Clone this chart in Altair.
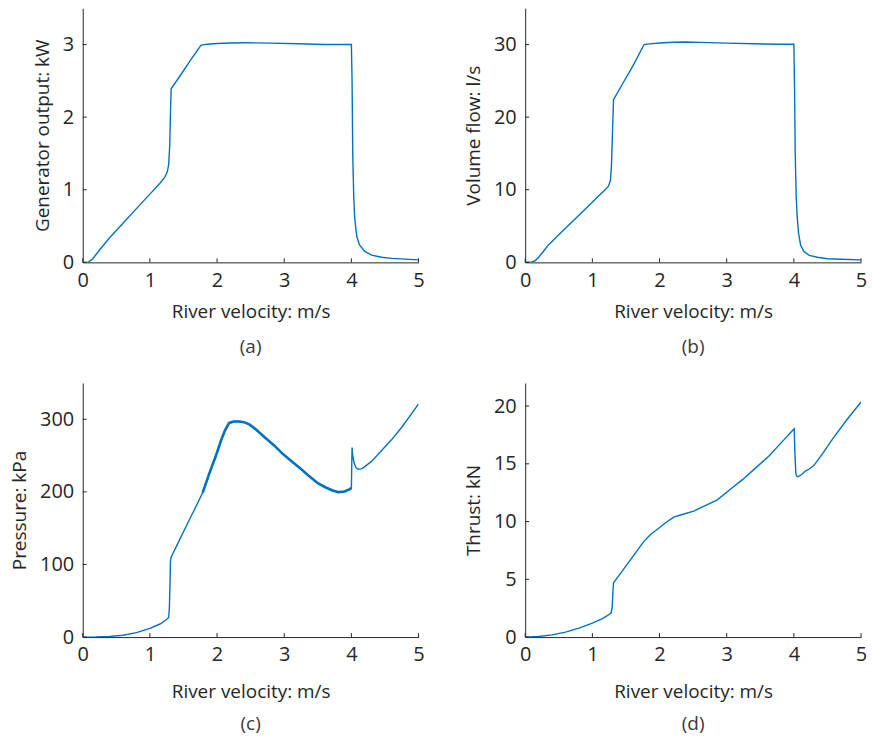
import altair as alt
import pandas as pd

# ---------------- data ----------------
x_ticks = [0, 1, 2, 3, 4, 5]

# (a) Generator output, kW
v_a = [0, 0.08, 0.15, 0.25, 0.4, 0.6, 0.8, 1.0, 1.15, 1.22, 1.26, 1.28, 1.295, 1.305,
       1.316, 1.45, 1.6, 1.76, 1.85, 2.0, 2.2, 2.4, 2.8, 3.2, 3.6, 4.0, 4.01, 4.02, 4.035,
       4.05, 4.08, 4.12, 4.2, 4.3, 4.45, 4.6, 4.8, 5.0]
gen_kw = [0, 0, 0.05, 0.17, 0.34, 0.54, 0.74, 0.94, 1.09, 1.17, 1.25, 1.35, 1.6, 2.0,
          2.39, 2.57, 2.78, 2.99, 3.005, 3.015, 3.022, 3.025, 3.02, 3.01, 3.0, 3.0, 2.5,
          1.5, 0.9, 0.6, 0.36, 0.24, 0.15, 0.1, 0.07, 0.055, 0.045, 0.035]
yt_a = [0, 1, 2, 3]

# (b) Volume flow, l/s
v_b = [0, 0.1, 0.15, 0.2, 0.27, 0.34, 0.5, 0.7, 0.9, 1.1, 1.18, 1.24, 1.27, 1.285, 1.3,
       1.315, 1.45, 1.6, 1.77, 1.85, 2.0, 2.2, 2.4, 2.6, 3.0, 3.4, 3.8, 4.0, 4.01, 4.02,
       4.035, 4.05, 4.07, 4.1, 4.15, 4.23, 4.35, 4.5, 4.7, 5.0]
flow_ls = [0, 0.05, 0.25, 0.7, 1.5, 2.34, 3.8, 5.6, 7.4, 9.2, 9.9, 10.5, 11.3, 13.5, 18,
           22.4, 24.6, 27.0, 30.0, 30.1, 30.22, 30.32, 30.35, 30.3, 30.2, 30.1, 30.05,
           30.05, 24, 15, 9, 6.2, 4.0, 2.4, 1.5, 0.96, 0.7, 0.5, 0.42, 0.35]
yt_b = [0, 10, 20, 30]

# (c) Pressure, kPa
v_c = [0, 0.2, 0.4, 0.6, 0.8, 1.0, 1.15, 1.24, 1.28, 1.29, 1.30, 1.306, 1.316, 1.4, 1.54,
       1.66, 1.785, 1.88, 1.98, 2.06, 2.12, 2.18, 2.25, 2.33, 2.4, 2.48, 2.58, 2.7, 2.85,
       2.97, 3.1, 3.25, 3.37, 3.5, 3.62, 3.72, 3.81, 3.9, 3.96, 4.0, 4.005, 4.01, 4.02,
       4.04, 4.07, 4.1, 4.16, 4.3, 4.46, 4.6, 4.75, 4.9, 5.0]
press_kpa = [0, 0.1, 0.8, 2.6, 6.1, 12, 18, 23.5, 27, 40, 75, 104, 110, 126, 152.6, 175,
             198.7, 224, 249, 271, 285, 295, 297, 297, 296, 293, 286, 276, 264, 253, 243,
             231.5, 221.7, 212, 206, 202, 199.6, 200.5, 203, 205, 235, 261, 250, 240, 233,
             231, 232, 242, 258, 272, 289, 308, 321]
yt_c = [0, 100, 200, 300]

# (d) Thrust, kN
v_d = [0, 0.2, 0.4, 0.6, 0.8, 1.0, 1.15, 1.25, 1.28, 1.295, 1.305, 1.316, 1.4, 1.52,
       1.64, 1.77, 1.87, 1.97, 2.08, 2.21, 2.35, 2.51, 2.68, 2.855, 3.05, 3.24, 3.44,
       3.63, 3.82, 4.005, 4.015, 4.03, 4.05, 4.07, 4.12, 4.17, 4.23, 4.30, 4.43, 4.57,
       4.78, 5.0]
thrust_kn = [0, 0.05, 0.19, 0.43, 0.77, 1.2, 1.6, 1.95, 2.1, 2.6, 3.8, 4.7, 5.37, 6.32,
             7.27, 8.31, 8.9, 9.33, 9.85, 10.39, 10.63, 10.91, 11.38, 11.86, 12.77, 13.65,
             14.69, 15.67, 16.88, 18.04, 16.0, 14.09, 13.9, 13.89, 14.1, 14.37, 14.55,
             14.87, 15.9, 17.1, 18.75, 20.35]
yt_d = [0, 5, 10, 15, 20]

# ---------------- styling ----------------
W, H = 337, 255
BLUE = "#0072BD"
INK = "#262626"
FONT = "Open Sans"


def panel(v, y, ytitle, ymax, yticks, caption, ytitle_pad, xtitle_pad, cap_offset,
          thick_range=None):
    df = pd.DataFrame({"v": v, "y": y})
    xs = alt.Scale(domain=[0, 5], nice=False, zero=False)
    ys = alt.Scale(domain=[0, ymax], nice=False, zero=False)
    xaxis = alt.Axis(title="River velocity: m/s", values=x_ticks, ticks=False,
                     labelPadding=8, titlePadding=xtitle_pad, grid=False, format="d",
                     labelFlush=False, labelOverlap=False)
    yaxis = alt.Axis(title=ytitle, values=yticks, ticks=False, labelPadding=9,
                     titlePadding=ytitle_pad, grid=False, format="d", labelFlush=False,
                     labelOverlap=False)
    base = alt.Chart(df)
    line = base.mark_line(color=BLUE, strokeWidth=1.4, clip=True).encode(
        x=alt.X("v:Q", scale=xs, axis=xaxis),
        y=alt.Y("y:Q", scale=ys, axis=yaxis),
    )
    layers = [line]
    if thick_range is not None:
        thick = base.transform_filter(
            (alt.datum.v >= thick_range[0]) & (alt.datum.v <= thick_range[1])
        ).mark_line(color=BLUE, strokeWidth=2.6, clip=True).encode(
            x=alt.X("v:Q", scale=xs, axis=xaxis),
            y=alt.Y("y:Q", scale=ys, axis=yaxis),
        )
        layers.append(thick)
    xt = alt.Chart(pd.DataFrame({"v": x_ticks})).mark_rule(color=INK, strokeWidth=1).encode(
        x=alt.X("v:Q", scale=xs, axis=xaxis),
        y=alt.value(H),
        y2=alt.value(H - 4),
    )
    yt = alt.Chart(pd.DataFrame({"y": yticks})).mark_rule(color=INK, strokeWidth=1).encode(
        y=alt.Y("y:Q", scale=ys, axis=yaxis),
        x=alt.value(0),
        x2=alt.value(4),
    )
    layers += [xt, yt]
    return alt.layer(*layers).properties(
        width=W,
        height=H,
        title=alt.TitleParams(text=caption, orient="bottom", frame="group", anchor="middle",
                              fontSize=19, font=FONT, color="#3a3a3a", fontWeight="normal",
                              offset=cap_offset),
    )


pa = panel(v_a, gen_kw, "Generator output: kW", 3.5, yt_a, "(a)", 10, 12, 17)
pb = panel(v_b, flow_ls, "Volume flow: l/s", 35, yt_b, "(b)", 10, 12, 17)
pc = panel(v_c, press_kpa, "Pressure: kPa", 350, yt_c, "(c)", 10, 18, 13,
           thick_range=(1.785, 4.0))
pd_ = panel(v_d, thrust_kn, "Thrust: kN", 22, yt_d, "(d)", 10, 18, 13)

chart = alt.concat(
    pa, pb, pc, pd_, columns=2,
    spacing={"row": 121, "column": 107}, bounds="flush",
).properties(
    padding={"left": 10, "top": 7, "right": 5, "bottom": 5}
).configure_view(stroke=None).configure_axis(
    labelFont=FONT, labelFontSize=20, labelColor=INK,
    titleFont=FONT, titleFontSize=19, titleFontWeight="normal", titleColor=INK,
    domainColor=INK, domainWidth=1,
)

chart.save("out.html", embed_options={"renderer": "svg", "actions": False})
